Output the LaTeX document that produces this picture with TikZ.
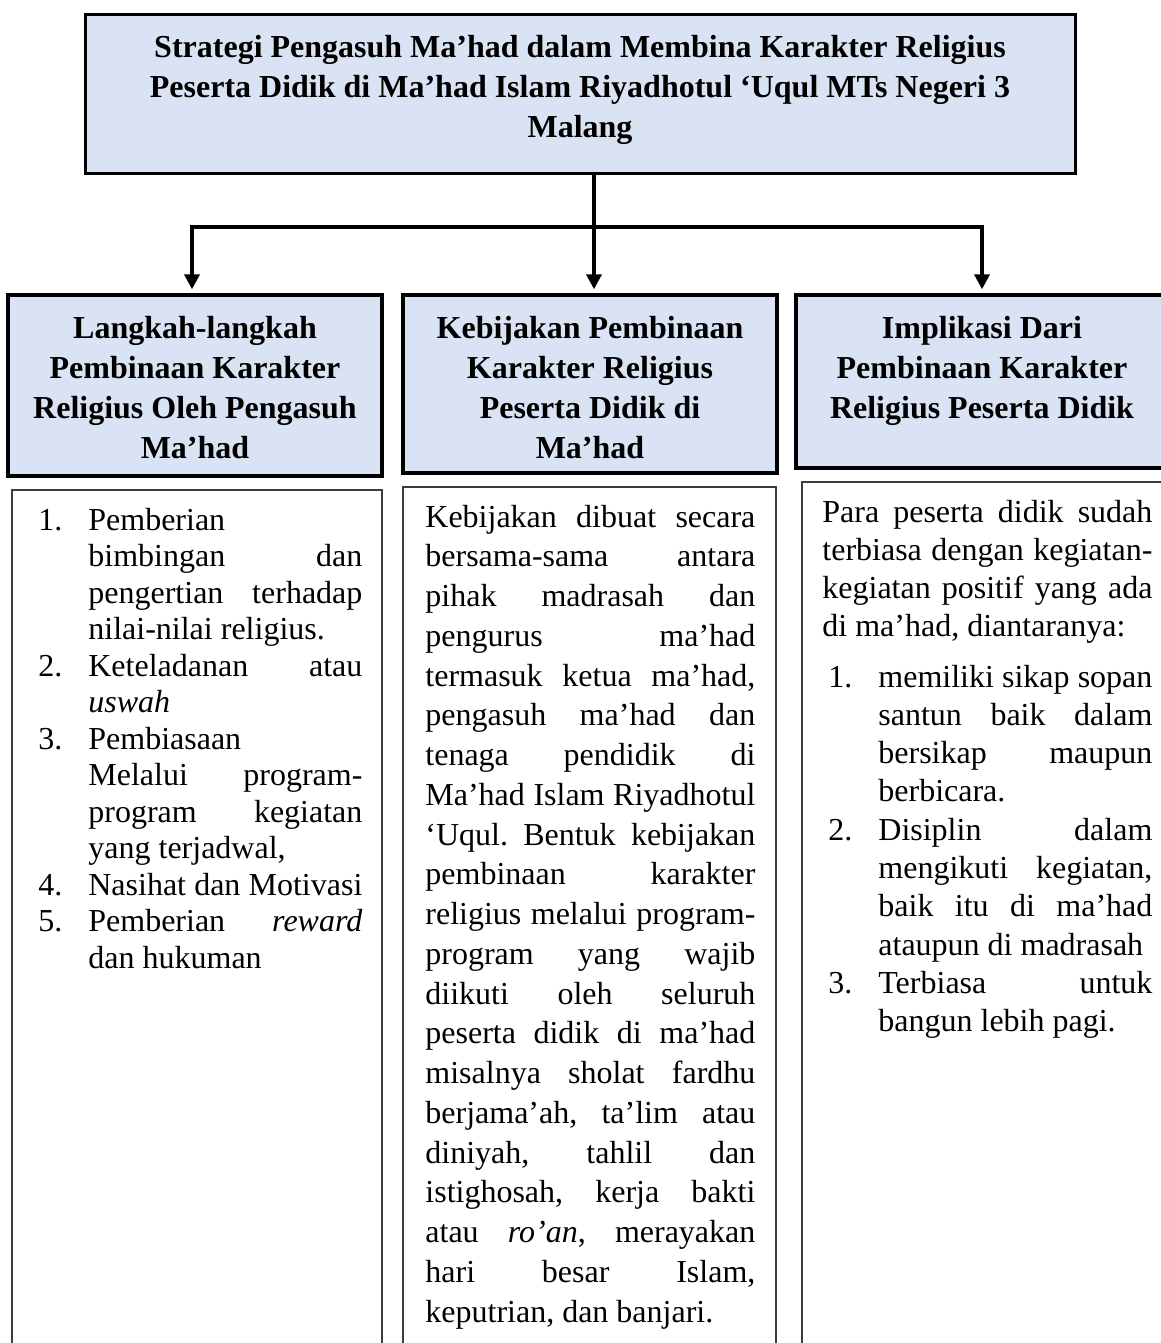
\documentclass[tikz,border=0pt]{standalone}
\usepackage{fontspec}
\setmainfont{Liberation Serif}
\usetikzlibrary{arrows.meta,fit}
\definecolor{hdrfill}{HTML}{DAE3F3}
\definecolor{bodyline}{HTML}{3C3C3C}
\frenchspacing
\newcommand{\Jl}[1]{\leavevmode\makebox[\linewidth][s]{#1}\par}
\newcommand{\Ll}[1]{\leavevmode#1\par}
\newcommand{\Nm}[1]{\llap{\makebox[25pt][l]{#1}}}
\newcommand{\HdrFont}{\bfseries\fontsize{16pt}{20pt}\selectfont}
\begin{document}
\begin{tikzpicture}[x=0.5pt,y=-0.5pt,
  titlebox/.style={draw=black,line width=1.5pt,fill=hdrfill,inner sep=0pt},
  hdrbox/.style={draw=black,line width=1.7pt,fill=hdrfill,inner sep=0pt},
  bodybox/.style={draw=bodyline,line width=0.7pt,fill=white,inner sep=0pt},
  txt/.style={inner sep=0pt,anchor=base west},
  ctxt/.style={inner sep=0pt,anchor=base},
  conn/.style={line width=1.8pt,draw=black},
  arrowline/.style={conn,-{Triangle[length=7.5pt,width=7.5pt]},shorten >=2pt}]
\useasboundingbox (0,0) rectangle (1161,1343);
\begin{scope}
\clip (0,0) rectangle (1161,1343);
% boxes
\node[titlebox,fit={(85,15)(1075,173)}] (top) {};
\node[hdrbox,fit={(8,295)(382,476)}] (h1) {};
\node[hdrbox,fit={(403,295)(777,473)}] (h2) {};
\node[hdrbox,fit={(796,295)(1180,468)}] (h3) {};
\node[bodybox,fit={(12,490)(382,1370)}] (b1) {};
\node[bodybox,fit={(403,487)(776,1370)}] (b2) {};
\node[bodybox,fit={(802,482)(1180,1370)}] (b3) {};
% connectors
\coordinate (j) at (594,227);
\coordinate (x1) at (192,227);
\coordinate (x3) at (982,227);
\draw[arrowline] (top.south -| j) -- (j |- h2.north);
\draw[arrowline] (j) -| (x1 |- h1.north);
\draw[arrowline] (j) -| (x3 |- h3.north);
% title
\node[ctxt] (tt) at (580,58) {\parbox[t]{490pt}{\centering\HdrFont
Strategi Pengasuh Ma’had dalam Membina Karakter Religius\\
Peserta Didik di Ma’had Islam Riyadhotul ‘Uqul MTs Negeri 3\\
Malang}};
% headers
\node[ctxt] (ht1) at (195,338) {\parbox[t]{180pt}{\centering\HdrFont
Langkah-langkah\\Pembinaan Karakter\\Religius Oleh Pengasuh\\Ma’had}};
\node[ctxt] (ht2) at (590,338) {\parbox[t]{180pt}{\centering\HdrFont
Kebijakan Pembinaan\\Karakter Religius\\Peserta Didik di\\Ma’had}};
\node[ctxt] (ht3) at (982,338) {\parbox[t]{180pt}{\centering\HdrFont
Implikasi Dari\\Pembinaan Karakter\\Religius Peserta Didik}};
% left column
\node[txt] (c1) at (88,530) {\parbox[t]{137pt}{\fontsize{16pt}{18.25pt}\selectfont
\Ll{\Nm{1.}Pemberian}
\Jl{bimbingan dan}
\Jl{pengertian terhadap}
\Ll{nilai-nilai religius.}
\Jl{\Nm{2.}Keteladanan atau}
\Ll{\textit{uswah}}
\Ll{\Nm{3.}Pembiasaan}
\Jl{Melalui program-}
\Jl{program kegiatan}
\Ll{yang terjadwal,}
\Jl{\Nm{4.}Nasihat dan Motivasi}
\Jl{\Nm{5.}Pemberian \textit{reward}}
\Ll{dan hukuman}}};
% middle column
\node[txt] (c2) at (425,527) {\parbox[t]{165pt}{\fontsize{16pt}{19.875pt}\selectfont
\Jl{Kebijakan dibuat secara}
\Jl{bersama-sama antara}
\Jl{pihak madrasah dan}
\Jl{pengurus ma’had}
\Jl{termasuk ketua ma’had,}
\Jl{pengasuh ma’had dan}
\Jl{tenaga pendidik di}
\Jl{Ma’had Islam Riyadhotul}
\Jl{‘Uqul. Bentuk kebijakan}
\Jl{pembinaan karakter}
\Jl{religius melalui program-}
\Jl{program yang wajib}
\Jl{diikuti oleh seluruh}
\Jl{peserta didik di ma’had}
\Jl{misalnya sholat fardhu}
\Jl{berjama’ah, ta’lim atau}
\Jl{diniyah, tahlil dan}
\Jl{istighosah, kerja bakti}
\Jl{atau \textit{ro’an}, merayakan}
\Jl{hari besar Islam,}
\Ll{keputrian, dan banjari.}}};
% right column
\node[txt] (c3) at (822,522) {\parbox[t]{165pt}{\fontsize{16pt}{19pt}\selectfont
\Jl{Para peserta didik sudah}
\Jl{terbiasa dengan kegiatan-}
\Jl{kegiatan positif yang ada}
\Ll{di ma’had, diantaranya:}}};
\node[txt] (c4) at (878,687) {\parbox[t]{137pt}{\fontsize{16pt}{19.15pt}\selectfont
\Jl{\Nm{1.}memiliki sikap sopan}
\Jl{santun baik dalam}
\Jl{bersikap maupun}
\Ll{berbicara.}
\Jl{\Nm{2.}Disiplin dalam}
\Jl{mengikuti kegiatan,}
\Jl{baik itu di ma’had}
\Ll{ataupun di madrasah}
\Jl{\Nm{3.}Terbiasa untuk}
\Ll{bangun lebih pagi.}}};
\end{scope}
\end{tikzpicture}
\end{document}
